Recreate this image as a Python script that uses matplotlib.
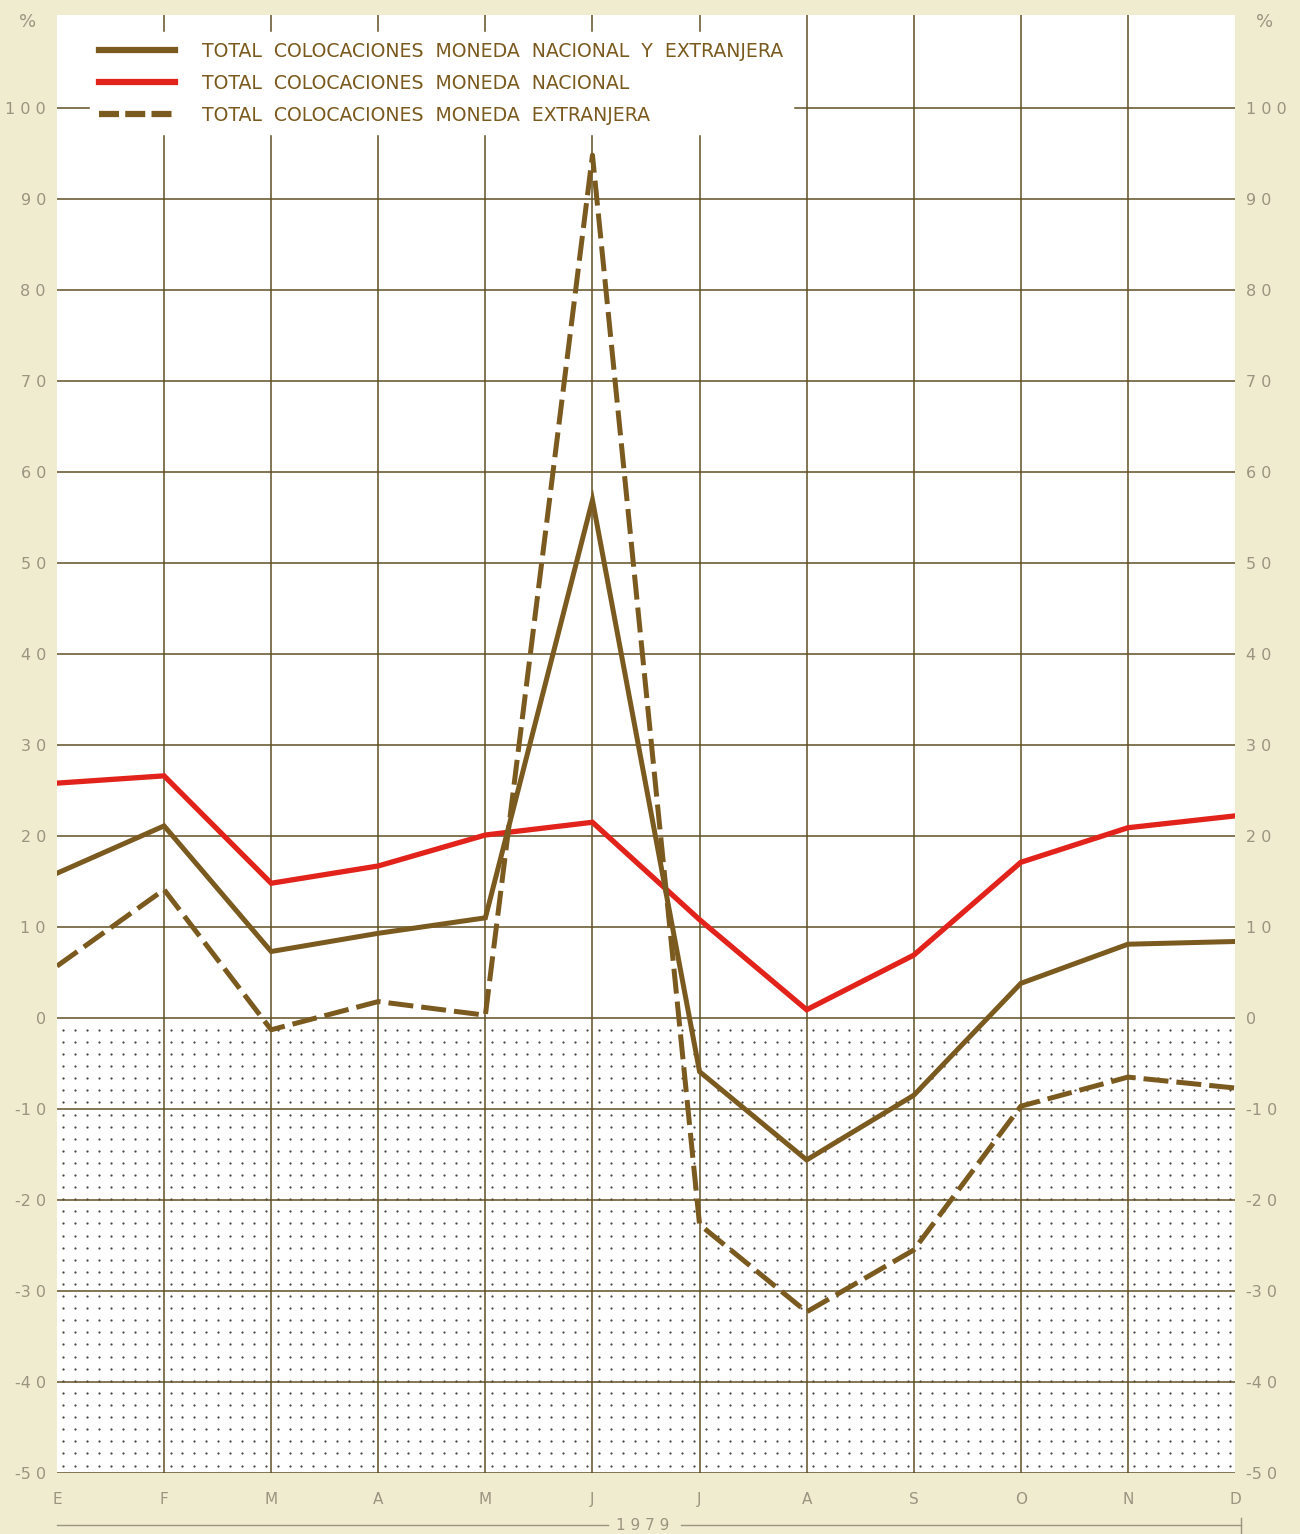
import matplotlib
matplotlib.use("Agg")
import matplotlib.pyplot as plt
import numpy as np

months = ["E", "F", "M", "A", "M", "J", "J", "A", "S", "O", "N", "D"]
total = [15.9, 21.1, 7.3, 9.3, 11.0, 56.9, -5.9, -15.6, -8.5, 3.8, 8.1, 8.4]
nacional = [25.8, 26.6, 14.8, 16.7, 20.1, 21.5, 10.8, 0.9, 6.9, 17.1, 20.9, 22.2]
extranjera = [5.7, 14.1, -1.3, 1.8, 0.3, 94.8, -22.7, -32.3, -25.5, -9.7, -6.5, -7.7]
yticks = list(range(-50, 101, 10))
year = "1 9 7 9"

bg = "#efecd0"
brown = "#7b5a1f"
red = "#e2231b"
grid_c = "#5f4f25"
label_c = "#9b9480"

fig = plt.figure(figsize=(13, 15.34), dpi=100, facecolor=bg)
ax = fig.add_axes([57 / 1300, 61 / 1534, 1178 / 1300, 1458 / 1534])
ax.set_facecolor("white")
x = np.arange(len(months))
ax.set_xlim(0, 11)
ax.set_ylim(-50, 110.2)

# dotted pattern for negative area
dx, dy = np.meshgrid(np.arange(0.06, 11, 1 / 9), np.arange(-1.3, -50, -1.33))
ax.scatter(dx.ravel(), dy.ravel(), s=2.6, color="#4a463f", linewidths=0, zorder=1)

# grid
for v in yticks:
    ax.axhline(v, color=grid_c, lw=1.1, zorder=2)
for i in range(1, 11):
    ax.axvline(i, color=grid_c, lw=1.1, zorder=2)

for s in ax.spines.values():
    s.set_visible(False)

ax.plot(x, nacional, color=red, lw=3.8, zorder=5, solid_joinstyle="miter")
ax.plot(x, total, color=brown, lw=3.6, zorder=6, solid_joinstyle="miter")
ax.plot(x, extranjera, color=brown, lw=3.6, zorder=6, dashes=(5, 1.6))

h1, = ax.plot([], [], color=brown, lw=4.5)
h2, = ax.plot([], [], color=red, lw=4.5)
h3, = ax.plot([], [], color=brown, lw=4.5, dashes=(3.2, 1.0))
leg = ax.legend([h1, h2, h3],
                ["TOTAL  COLOCACIONES  MONEDA  NACIONAL  Y  EXTRANJERA",
                 "TOTAL  COLOCACIONES  MONEDA  NACIONAL",
                 "TOTAL  COLOCACIONES  MONEDA  EXTRANJERA"],
                loc="upper left", bbox_to_anchor=(0.028, 0.988),
                frameon=True, facecolor="white", edgecolor="white",
                framealpha=1, fancybox=False, prop={"size": 13.6},
                handlelength=4.0, handletextpad=1.45, labelspacing=0.68,
                borderpad=0.5, borderaxespad=0)
leg.set_zorder(4)
for t in leg.get_texts():
    t.set_color(brown)

# y labels both sides
ax.set_yticks(yticks)
ax.set_yticklabels([" ".join(str(abs(v))) if v >= 0 else "-" + " ".join(str(abs(v)))
                    for v in yticks], color=label_c, fontsize=11.5)
ax.tick_params(axis="y", length=0, pad=8, labelright=True)
ax.tick_params(axis="x", length=0, pad=14)
ax.set_xticks(x)
ax.set_xticklabels(months, color=label_c, fontsize=11)

ax.text(-0.018, 0.995, "%", transform=ax.transAxes, color=label_c, fontsize=13,
        ha="right", va="center")
ax.text(1.018, 0.995, "%", transform=ax.transAxes, color=label_c, fontsize=13,
        ha="left", va="center")

# year line under the months
ax.text(0.497, -0.036, year, transform=ax.transAxes, color=label_c,
        fontsize=11, ha="center", va="center")
ax.plot([0.0, 0.468], [-0.036, -0.036], transform=ax.transAxes, color=label_c,
        lw=1.0, clip_on=False)
ax.plot([0.53, 1.005], [-0.036, -0.036], transform=ax.transAxes, color=label_c,
        lw=1.0, clip_on=False)
ax.plot([1.005, 1.005], [-0.041, -0.031], transform=ax.transAxes, color=label_c,
        lw=1.0, clip_on=False)

fig.savefig("out.png", dpi=100, facecolor=bg)
